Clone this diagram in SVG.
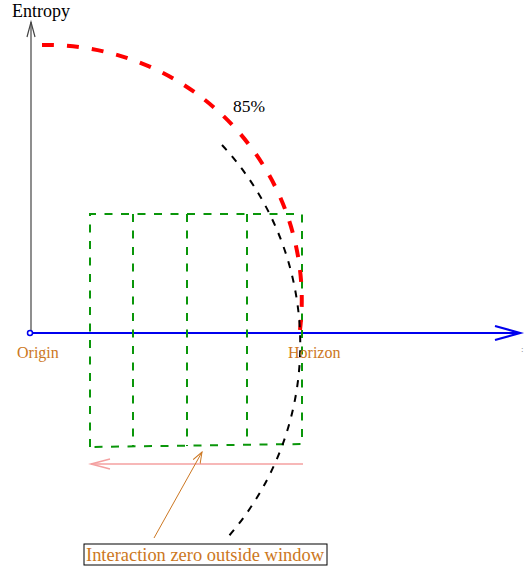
<svg xmlns="http://www.w3.org/2000/svg" width="525" height="572" viewBox="0 0 525 572">
<style>
.lbl{font-family:"Liberation Serif","Times New Roman",serif;}
.brown{fill:#cc7722;}
.grn{stroke:#0a960a;stroke-width:2;stroke-dasharray:8,8.5;fill:none;}
</style>
<defs>
<marker id="brownhead" markerWidth="12" markerHeight="10" refX="11" refY="5" orient="auto" markerUnits="userSpaceOnUse">
<path d="M0,1 L11,5 L0,9" fill="none" stroke="#cc7722" stroke-width="1"/>
</marker>
</defs>
<rect width="525" height="572" fill="#fff"/>
<g id="axes">
<path d="M31,333 L31,22" stroke="#444" stroke-width="1.2" fill="none"/>
<path d="M27,37 L31,22 L35,37" stroke="#444" stroke-width="1.2" fill="none"/>
<path d="M31,333 L518,333" stroke="#0000ee" stroke-width="2.2" fill="none"/>
<path d="M495,326 L520,333 L495,340" stroke="#0000ee" stroke-width="2.2" fill="none"/>
<circle cx="30" cy="333" r="2.5" fill="#fff" stroke="#0000ee" stroke-width="1.5"/>
</g>
<g id="window">
<path class="grn" d="M90,447 L90,214 L302,214 L302,444 L90,447"/>
<path class="grn" d="M133,214 L133,446"/>
<path class="grn" d="M187,214 L187,446"/>
<path class="grn" d="M247,214 L247,445"/>
</g>
<g id="curves">
<path d="M42,45 A255,255 0 0 1 300,330" stroke="#ff0000" stroke-width="4" stroke-dasharray="12,13" fill="none"/>
<path d="M222,145 A293,293 0 0 1 228,537" stroke="#000" stroke-width="2" stroke-dasharray="7,8" fill="none"/>
</g>
<g id="connectors">
<path d="M303,464 L91,464" stroke="#f4a0a0" stroke-width="1.5" fill="none"/>
<path d="M110,459 L91,464 L110,469" stroke="#f4a0a0" stroke-width="1.5" fill="none"/>
<path d="M154,538 L202,452" stroke="#cc7722" stroke-width="1" fill="none" marker-end="url(#brownhead)"/>
</g>
<g id="labels">
<text class="lbl" x="12" y="17" font-size="18" fill="#000">Entropy</text>
<text class="lbl" x="233" y="112" font-size="17.5" fill="#000">85%</text>
<text class="lbl brown" x="17" y="358" font-size="16">Origin</text>
<text class="lbl brown" x="288" y="358" font-size="16">Horizon</text>
<text class="lbl" x="521" y="352" font-size="9" fill="#777">:</text>
</g>
<g id="note">
<rect x="84" y="544" width="243" height="21" fill="#fff" stroke="#000" stroke-width="1"/>
<text class="lbl brown" x="86" y="561" font-size="18" textLength="238" lengthAdjust="spacingAndGlyphs">Interaction zero outside window</text>
</g>
</svg>
